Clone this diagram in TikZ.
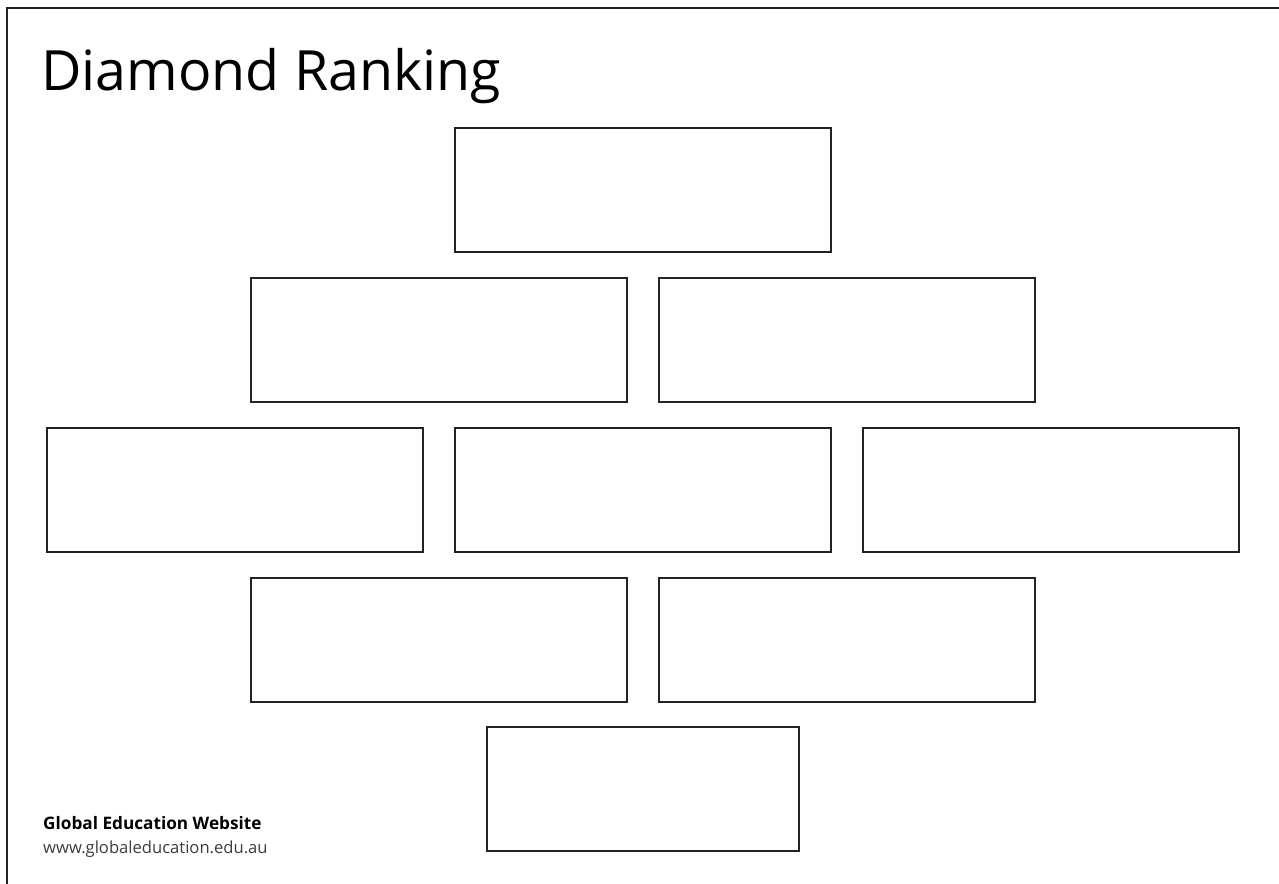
\documentclass[tikz,border=0pt]{standalone}
\usepackage{fontspec}
\setmainfont{Open Sans}
\usetikzlibrary{positioning}
\definecolor{framegray}{RGB}{35,35,35}
\definecolor{urlgray}{RGB}{60,60,60}

\begin{document}
\begin{tikzpicture}[x=1pt, y=-1pt, node distance=26pt,
        rankbox/.style={rectangle,draw=framegray,line width=1.8pt,fill=white,
          minimum width=376pt,minimum height=124pt,inner sep=0pt,outer sep=0pt},
        lastbox/.style={rankbox,minimum width=312pt},
        heading/.style={anchor=base west,inner sep=0pt,font=\fontsize{55.5}{60}\selectfont},
        footer/.style={anchor=base west,inner sep=0pt}]
        \useasboundingbox (0,0) rectangle (1279,883);
        % page frame
        \coordinate (framebl) at (7,884);
        \coordinate (frametl) at (7,8);
        \coordinate (frametr) at (1280,8);
        \draw[framegray,line width=1.6pt] (framebl) -- (frametl) -- (frametr);
        \node[heading] (title) at (41,90) {Diamond Ranking};
        % diamond of boxes
        \node[rankbox] (rank1) at (643,190) {};
        \node[rankbox,below left=26pt and -172pt of rank1] (rank2a) {};
        \node[rankbox,below right=26pt and -172pt of rank1] (rank2b) {};
        \node[rankbox,below left=26pt and -172pt of rank2a] (rank3a) {};
        \node[rankbox,below right=26pt and -172pt of rank2a] (rank3b) {};
        \node[rankbox,below right=26pt and -172pt of rank2b] (rank3c) {};
        \node[rankbox,below right=26pt and -172pt of rank3a] (rank4a) {};
        \node[rankbox,below left=26pt and -172pt of rank3c] (rank4b) {};
        \node[lastbox,below=175pt of rank3b] (rank5) {};
        % credit
        \node[footer,font=\fontsize{17.2}{20}\selectfont\bfseries] (site) at (43,829) {Global Education Website};
        \node[footer,text=urlgray,font=\fontsize{16.6}{18}\selectfont] (url) at (43,853) {www.globaleducation.edu.au};
      \end{tikzpicture}
\end{document}
